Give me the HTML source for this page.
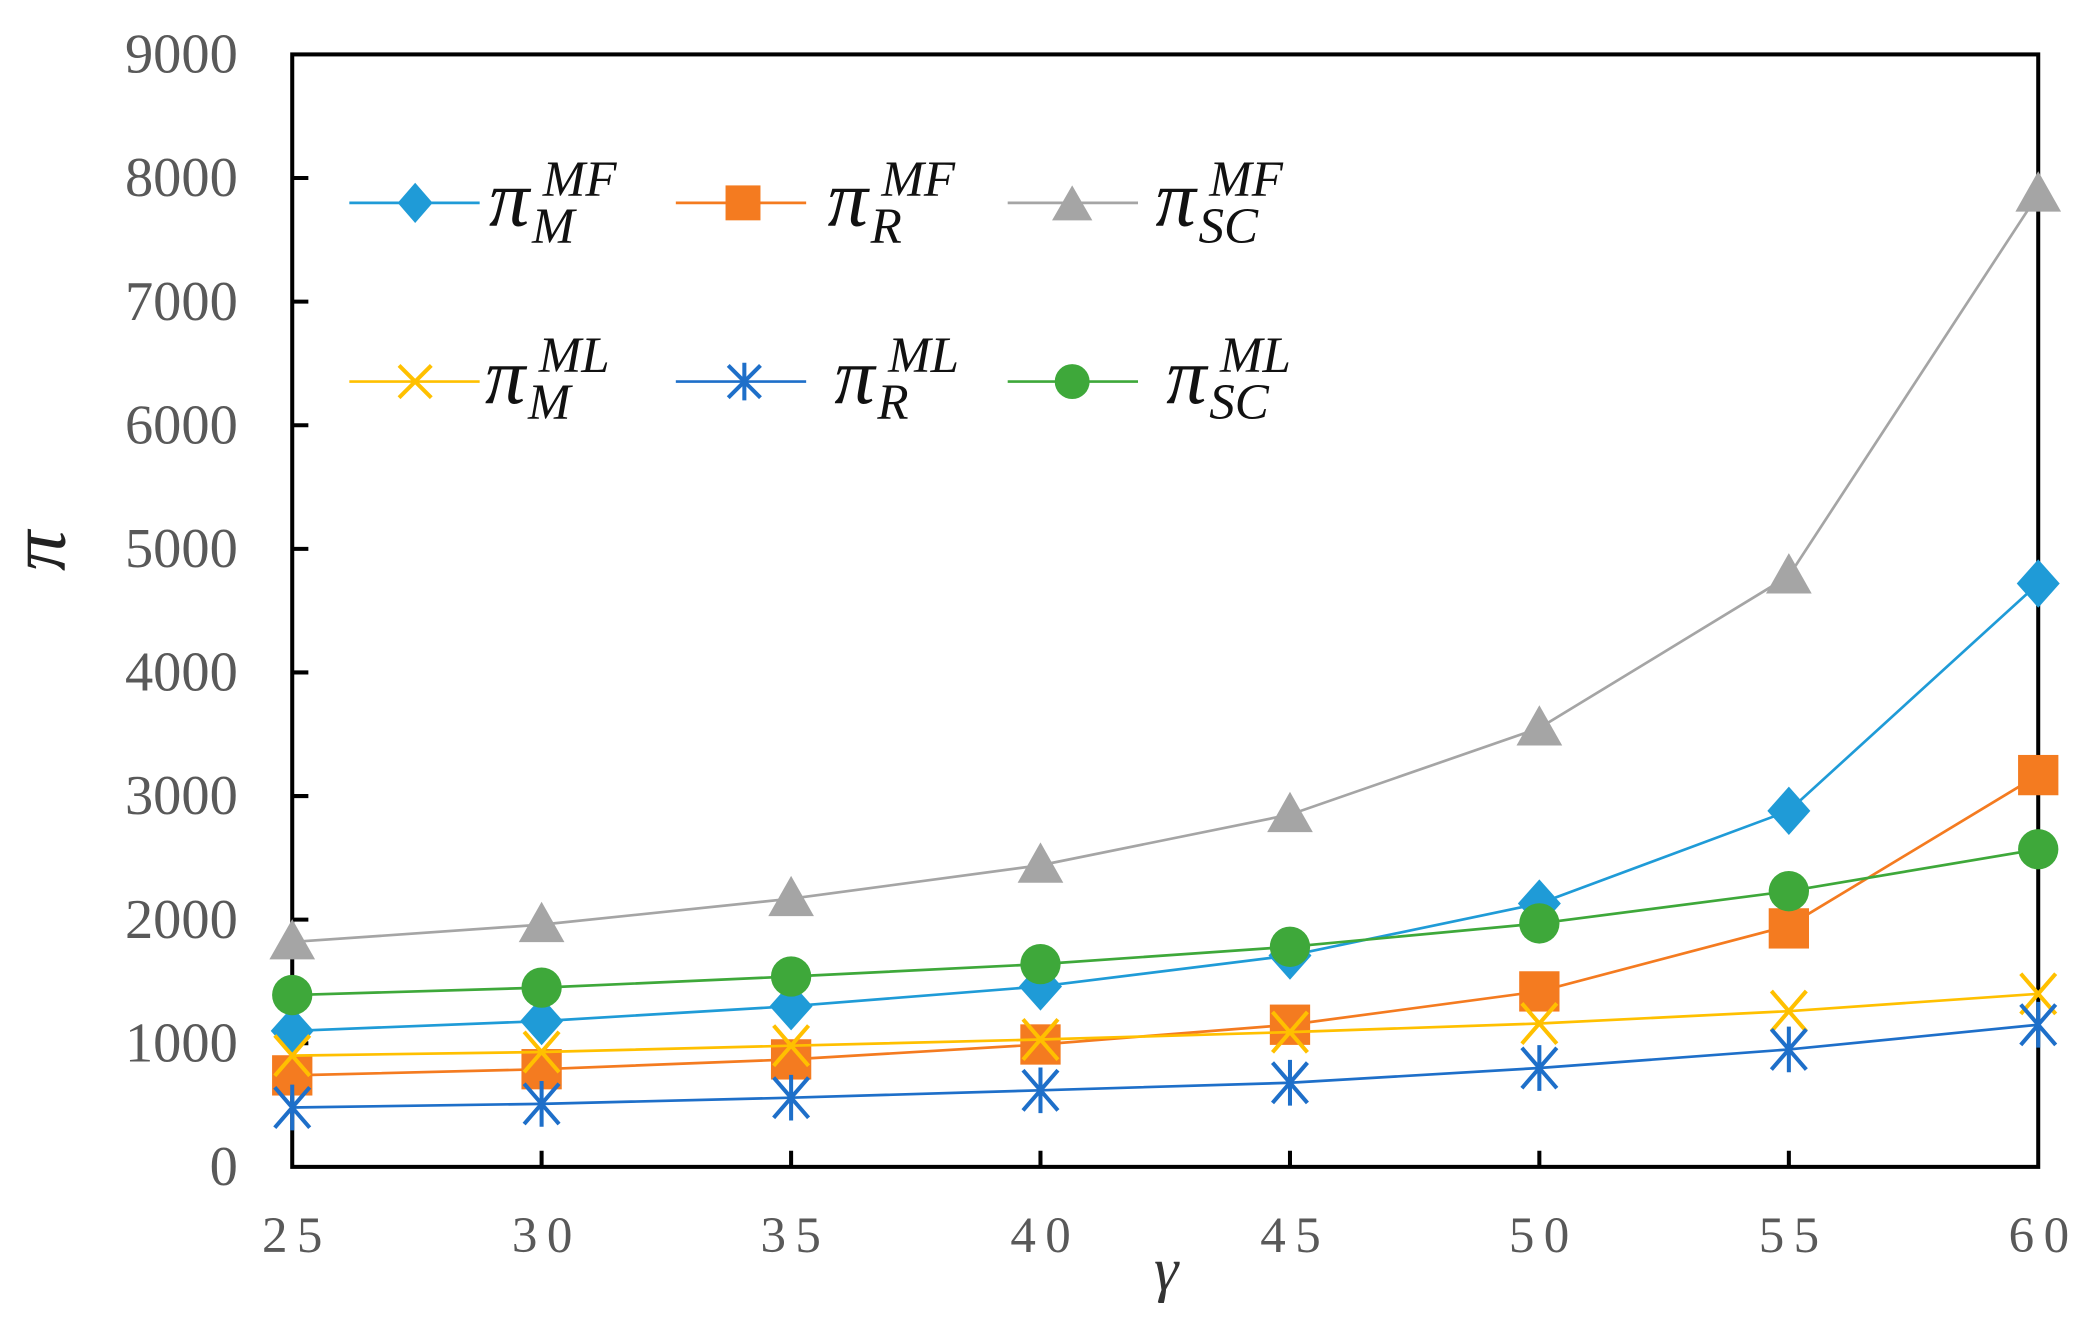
<!DOCTYPE html>
<html><head><meta charset="utf-8"><style>
html,body{margin:0;padding:0;background:#fff;}
svg{display:block;}
text{font-family:"Liberation Serif","DejaVu Serif",serif;}
</style></head><body>
<svg width="2096" height="1323" viewBox="0 0 1560 984.7" preserveAspectRatio="none" xmlns="http://www.w3.org/2000/svg">
<defs>
<path id="dia" d="M0,-18 L16,0 L0,18 L-16,0 Z" fill="#1f9bd7"/>
<rect id="sq" x="-15" y="-15" width="30" height="30" fill="#f47b20"/>
<path id="tri" d="M0,-17 L17,13 L-17,13 Z" fill="#a5a5a5"/>
<circle id="cir" r="15" fill="#3ea83a"/>
<path id="xx" d="M-13,-15 L13,15 M-13,15 L13,-15" stroke="#ffc000" stroke-width="3" fill="none"/>
<path id="st" d="M-13,-15 L13,15 M-13,15 L13,-15 M0,-17 L0,17" stroke="#1e6fc9" stroke-width="3" fill="none"/>
</defs>
<g font-size="42" fill="#595959" text-anchor="end">
<text x="177" y="54">9000</text>
<text x="177" y="146">8000</text>
<text x="177" y="238">7000</text>
<text x="177" y="330">6000</text>
<text x="177" y="422">5000</text>
<text x="177" y="514">4000</text>
<text x="177" y="606">3000</text>
<text x="177" y="698">2000</text>
<text x="177" y="790">1000</text>
<text x="177" y="882">0</text>
</g>
<g font-size="38" fill="#595959" text-anchor="middle" letter-spacing="7">
<text x="221" y="932">25</text>
<text x="407" y="932">30</text>
<text x="592" y="932">35</text>
<text x="778" y="932">40</text>
<text x="964" y="932">45</text>
<text x="1149" y="932">50</text>
<text x="1335" y="932">55</text>
<text x="1521" y="932">60</text>
</g>
<text x="868" y="960" font-size="46" font-style="italic" fill="#333" text-anchor="middle">γ</text>
<text transform="translate(48,410) rotate(-90)" font-size="60" font-style="italic" fill="#222" text-anchor="middle">π</text>
<rect x="217.5" y="40.5" width="1299.5" height="828" fill="none" stroke="#000" stroke-width="3"/>
<g stroke="#000" stroke-width="3">
<path d="M217.5,132.5h12M217.5,224.5h12M217.5,316.5h12M217.5,408.5h12M217.5,500.5h12M217.5,592.5h12M217.5,684.5h12M217.5,776.5h12"/>
<path d="M403.1,868.5v-12M588.8,868.5v-12M774.4,868.5v-12M960.1,868.5v-12M1145.7,868.5v-12M1331.4,868.5v-12"/>
</g>
<polyline fill="none" stroke="#1f9bd7" stroke-width="2" points="217.5,767.3 403.1,760 588.8,748.9 774.4,734.2 960.1,711.2 1145.7,672.5 1331.4,603.5 1517,434.3"/>
<g><use href="#dia" x="217.5" y="767.3"/><use href="#dia" x="403.1" y="760"/><use href="#dia" x="588.8" y="748.9"/><use href="#dia" x="774.4" y="734.2"/><use href="#dia" x="960.1" y="711.2"/><use href="#dia" x="1145.7" y="672.5"/><use href="#dia" x="1331.4" y="603.5"/><use href="#dia" x="1517" y="434.3"/></g>
<polyline fill="none" stroke="#f47b20" stroke-width="2" points="217.5,800.4 403.1,795.8 588.8,788.5 774.4,777.4 960.1,762.7 1145.7,737.9 1331.4,689 1517,576.9"/>
<g><use href="#sq" x="217.5" y="800.4"/><use href="#sq" x="403.1" y="795.8"/><use href="#sq" x="588.8" y="788.5"/><use href="#sq" x="774.4" y="777.4"/><use href="#sq" x="960.1" y="762.7"/><use href="#sq" x="1145.7" y="737.9"/><use href="#sq" x="1331.4" y="691"/><use href="#sq" x="1517" y="576.9"/></g>
<polyline fill="none" stroke="#a5a5a5" stroke-width="2" points="217.5,701.1 403.1,688.2 588.8,668.9 774.4,644 960.1,606.3 1145.7,541.9 1331.4,428.7 1517,144.5"/>
<g><use href="#tri" x="217.5" y="701.1"/><use href="#tri" x="403.1" y="688.2"/><use href="#tri" x="588.8" y="668.9"/><use href="#tri" x="774.4" y="644"/><use href="#tri" x="960.1" y="606.3"/><use href="#tri" x="1145.7" y="541.9"/><use href="#tri" x="1331.4" y="428.7"/><use href="#tri" x="1517" y="144.5"/></g>
<polyline fill="none" stroke="#ffc000" stroke-width="2" points="217.5,785.7 403.1,783 588.8,778.3 774.4,773.7 960.1,768.2 1145.7,761.8 1331.4,752.6 1517,739.7"/>
<g><use href="#xx" x="217.5" y="785.7"/><use href="#xx" x="403.1" y="783"/><use href="#xx" x="588.8" y="778.3"/><use href="#xx" x="774.4" y="773.7"/><use href="#xx" x="960.1" y="768.2"/><use href="#xx" x="1145.7" y="761.8"/><use href="#xx" x="1331.4" y="752.6"/><use href="#xx" x="1517" y="739.7"/></g>
<polyline fill="none" stroke="#1e6fc9" stroke-width="2" points="217.5,824.3 403.1,821.6 588.8,817 774.4,811.5 960.1,805.9 1145.7,794.9 1331.4,781.1 1517,762.7"/>
<g><use href="#st" x="217.5" y="824.3"/><use href="#st" x="403.1" y="821.6"/><use href="#st" x="588.8" y="817"/><use href="#st" x="774.4" y="811.5"/><use href="#st" x="960.1" y="805.9"/><use href="#st" x="1145.7" y="794.9"/><use href="#st" x="1331.4" y="781.1"/><use href="#st" x="1517" y="762.7"/></g>
<polyline fill="none" stroke="#3ea83a" stroke-width="2" points="217.5,740.6 403.1,735.1 588.8,726.8 774.4,717.6 960.1,704.7 1145.7,687.3 1331.4,663.3 1517,632.1"/>
<g><use href="#cir" x="217.5" y="740.6"/><use href="#cir" x="403.1" y="735.1"/><use href="#cir" x="588.8" y="726.8"/><use href="#cir" x="774.4" y="717.6"/><use href="#cir" x="960.1" y="704.7"/><use href="#cir" x="1145.7" y="687.3"/><use href="#cir" x="1331.4" y="663.3"/><use href="#cir" x="1517" y="632.1"/></g>
<g stroke-width="2">
<line x1="260" y1="151" x2="357" y2="151" stroke="#1f9bd7"/>
<line x1="503" y1="151" x2="600" y2="151" stroke="#f47b20"/>
<line x1="750" y1="151" x2="847" y2="151" stroke="#a5a5a5"/>
<line x1="260" y1="284" x2="357" y2="284" stroke="#ffc000"/>
<line x1="503" y1="284" x2="600" y2="284" stroke="#1e6fc9"/>
<line x1="750" y1="284" x2="847" y2="284" stroke="#3ea83a"/>
</g>
<path d="M309,136 L322,151 L309,166 L296,151 Z" fill="#1f9bd7"/>
<rect x="540" y="138" width="26" height="26" fill="#f47b20"/>
<path d="M798,138 L813,164 L783,164 Z" fill="#a5a5a5"/>
<path d="M297,272 L321,296 M297,296 L321,272" stroke="#ffc000" stroke-width="3"/>
<path d="M542,272 L566,296 M542,296 L566,272 M554,270 L554,298" stroke="#1e6fc9" stroke-width="3"/>
<circle cx="798" cy="284" r="13" fill="#3ea83a"/>
<g font-style="italic" fill="#111">
<text x="364" y="168" font-size="60">π</text><text x="404" y="146" font-size="38">MF</text><text x="396" y="181" font-size="38">M</text>
<text x="616" y="168" font-size="60">π</text><text x="656" y="146" font-size="38">MF</text><text x="648" y="181" font-size="38">R</text>
<text x="860" y="168" font-size="60">π</text><text x="900" y="146" font-size="38">MF</text><text x="892" y="181" font-size="38">SC</text>
<text x="361" y="300" font-size="60">π</text><text x="401" y="277" font-size="38">ML</text><text x="393" y="312" font-size="38">M</text>
<text x="621" y="300" font-size="60">π</text><text x="661" y="277" font-size="38">ML</text><text x="653" y="312" font-size="38">R</text>
<text x="868" y="300" font-size="60">π</text><text x="908" y="277" font-size="38">ML</text><text x="900" y="312" font-size="38">SC</text>
</g>
</svg>
</body></html>
